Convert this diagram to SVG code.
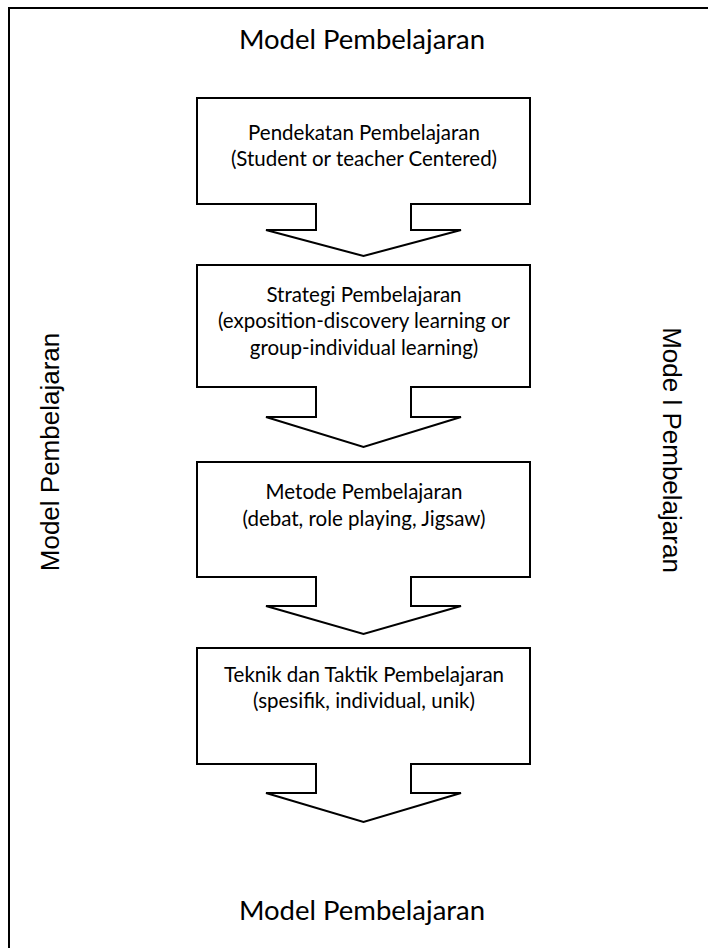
<svg xmlns="http://www.w3.org/2000/svg" width="708" height="948" viewBox="0 0 708 948">
<style>
.frame{fill:none;stroke:#000;stroke-width:2}
.shape{fill:#fff;stroke:#000;stroke-width:2;stroke-linejoin:miter}
.t{font-family:Lato,"Open Sans","Liberation Sans",sans-serif;font-size:20.5px;fill:#000;text-anchor:middle}
.title{font-family:Lato,"Open Sans","Liberation Sans",sans-serif;font-size:27.5px;fill:#000;text-anchor:middle}
.side{font-family:"Liberation Sans",Arial,sans-serif;font-size:26px;fill:#000;text-anchor:middle}
</style>
<rect width="708" height="948" fill="#fff"/>
<rect class="frame" x="9" y="8" width="710" height="960"/>
<g id="title-top"><text class="title" x="362" y="49">Model Pembelajaran</text></g>
<g id="title-bottom"><text class="title" x="362" y="920">Model Pembelajaran</text></g>
<g id="side-left"><text class="side" transform="translate(59,452) rotate(-90)">Model Pembelajaran</text></g>
<g id="side-right"><text class="side" transform="translate(663,450) rotate(90)">Mode l Pembelajaran</text></g>
<g id="connectors"></g>
<g id="node1">
<polygon class="shape" points="197,98 530,98 530,204 411,204 411,230 461,230 363.5,256 266,230 316,230 316,204 197,204"/>
<text class="t" x="364" y="140">Pendekatan Pembelajaran</text>
<text class="t" x="364" y="166">(Student or teacher Centered)</text>
</g>
<g id="node2">
<polygon class="shape" points="197,265 530,265 530,387 411,387 411,417 461,417 363.5,447 266,417 316,417 316,387 197,387"/>
<text class="t" x="364" y="302">Strategi Pembelajaran</text>
<text class="t" x="364" y="328">(exposition-discovery learning or</text>
<text class="t" x="364" y="355">group-individual learning)</text>
</g>
<g id="node3">
<polygon class="shape" points="197,462 530,462 530,577 411,577 411,606 461,606 363.5,634 266,606 316,606 316,577 197,577"/>
<text class="t" x="364" y="499">Metode Pembelajaran</text>
<text class="t" x="364" y="526">(debat, role playing, Jigsaw)</text>
</g>
<g id="node4">
<polygon class="shape" points="197,648 530,648 530,764 411,764 411,793 461,793 363.5,822 266,793 316,793 316,764 197,764"/>
<text class="t" x="364" y="682">Teknik dan Taktik Pembelajaran</text>
<text class="t" x="364" y="708">(spesifik, individual, unik)</text>
</g>
</svg>
